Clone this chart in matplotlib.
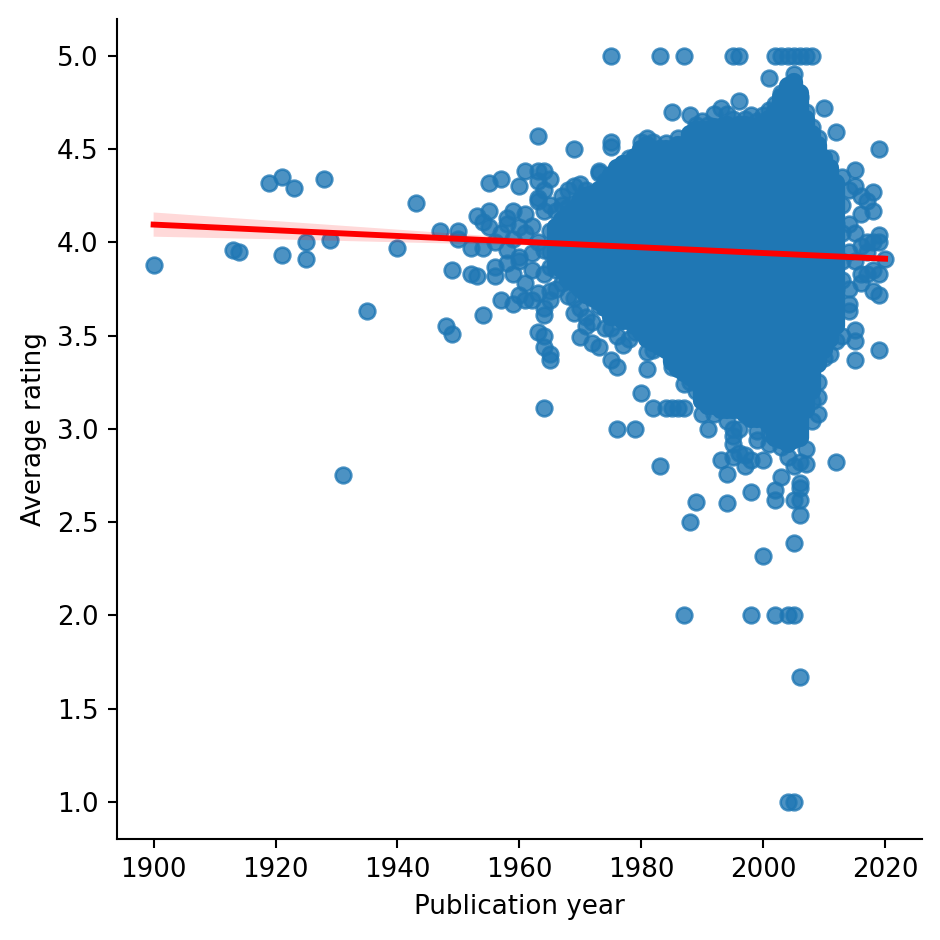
import numpy as np
import matplotlib
matplotlib.use("Agg")
import matplotlib.pyplot as plt

# single points: (publication year, average rating)
early_pts = [(1900, 3.88), (1913, 3.96), (1914, 3.95), (1919, 4.32), (1921, 4.35),
             (1921, 3.93), (1923, 4.29), (1925, 4.00), (1925, 3.91), (1928, 4.34),
             (1929, 4.01), (1931, 2.75), (1935, 3.63), (1940, 3.97), (1943, 4.21),
             (1947, 4.06), (1948, 3.55), (1949, 3.51), (1949, 3.85), (1950, 4.06),
             (1950, 4.02), (1952, 3.97), (1952, 3.83), (1953, 3.82), (1953, 4.14),
             (1954, 4.11), (1954, 3.97), (1954, 3.61), (1955, 4.17), (1955, 4.32),
             (1955, 4.08), (1956, 3.82), (1956, 3.87), (1956, 4.00), (1957, 4.34),
             (1957, 3.69), (1957, 4.05)]

left_pts = [(1958, 4.10), (1958, 4.13), (1958, 3.96), (1958, 3.89), (1959, 3.67),
            (1959, 4.17), (1959, 3.83), (1959, 4.02), (1960, 4.30), (1960, 4.08),
            (1960, 3.92), (1960, 3.72), (1960, 3.90), (1961, 4.38), (1961, 3.78),
            (1961, 3.69), (1961, 4.05), (1961, 4.15), (1962, 4.09), (1962, 3.94),
            (1962, 3.69), (1962, 3.85), (1963, 4.57), (1963, 4.38), (1963, 4.33),
            (1963, 4.24), (1963, 4.22), (1963, 3.73), (1963, 3.52), (1963, 4.00),
            (1964, 4.17), (1964, 4.28), (1964, 4.38), (1964, 3.96), (1964, 3.50),
            (1964, 3.44), (1964, 3.61), (1964, 3.65), (1964, 3.11), (1964, 3.83),
            (1965, 4.34), (1965, 4.20), (1965, 4.06), (1965, 3.87), (1965, 3.74),
            (1965, 3.69), (1965, 3.40), (1965, 3.37), (1965, 3.95), (1966, 4.17),
            (1966, 3.85), (1966, 3.75), (1967, 4.20), (1967, 3.78), (1967, 4.25),
            (1968, 4.19), (1968, 3.71), (1968, 4.28), (1969, 4.30), (1969, 4.50),
            (1969, 3.70), (1969, 3.62), (1970, 4.31), (1970, 3.65), (1970, 3.49),
            (1971, 4.28), (1971, 3.60), (1971, 3.55), (1972, 4.22), (1972, 3.57),
            (1972, 3.46), (1973, 4.38), (1973, 4.37), (1973, 3.66), (1973, 3.44),
            (1974, 3.54), (1974, 4.33), (1975, 4.54), (1975, 4.51), (1975, 3.37),
            (1975, 3.54), (1976, 3.50), (1976, 3.33), (1976, 3.00), (1977, 3.45),
            (1978, 3.48), (1979, 3.00)]

top_pts = [(1975, 5.0), (1983, 5.0), (1987, 5.0), (1995, 5.0), (1996, 5.0),
           (2002, 5.0), (2003, 5.0), (2004, 5.0), (2005, 5.0), (2006, 5.0),
           (2007, 5.0), (2008, 5.0), (2001, 4.88), (1985, 4.70), (1996, 4.76),
           (1993, 4.72), (1992, 4.69), (1988, 4.68), (1998, 4.68), (2001, 4.71),
           (2010, 4.72), (2012, 4.59), (1980, 4.54), (1982, 4.54), (1977, 4.42),
           (1976, 4.40), (2005, 4.90), (2004, 4.83), (2006, 4.78), (1990, 4.65),
           (1994, 4.69), (1997, 4.66), (2000, 4.68), (2003, 4.80), (2007, 4.70),
           (2008, 4.62), (2009, 4.56), (2011, 4.45), (2010, 4.38),
           (1978, 4.45), (1981, 4.56), (1984, 4.53), (1986, 4.56), (1989, 4.63),
           (1991, 4.63), (1995, 4.66), (1999, 4.65), (2002, 4.74)]

low_pts = [(1980, 3.19), (1981, 3.41), (1981, 3.32), (1982, 3.11), (1983, 2.80),
           (1984, 3.11), (1985, 3.11), (1986, 3.11), (1987, 3.11), (1987, 3.24),
           (1988, 2.50), (1989, 2.61), (1989, 3.20), (1990, 3.08), (1991, 3.00),
           (1993, 2.83), (1994, 2.76), (1994, 2.60), (1994, 3.04), (1995, 3.00),
           (1995, 2.96), (1995, 2.92), (1995, 2.85), (1996, 2.87), (1996, 3.00),
           (1997, 2.86), (1997, 2.80), (1998, 2.66), (1998, 2.83), (1999, 2.94),
           (1999, 2.99), (2000, 2.83), (2000, 2.32), (2001, 2.92), (2002, 2.67),
           (2002, 2.62), (2003, 2.74), (2004, 2.85), (2005, 2.80), (2005, 2.62),
           (2005, 2.39), (2006, 2.82), (2006, 2.71), (2006, 2.68), (2006, 2.62),
           (2006, 2.54), (2007, 2.89), (2007, 2.81), (2008, 3.04), (2009, 3.08),
           (2009, 3.25), (2009, 3.17), (2011, 3.40), (2012, 3.47), (2012, 2.82),
           (1987, 2.0), (1998, 2.0), (2002, 2.0), (2004, 2.0), (2005, 2.0),
           (2006, 1.67), (2004, 1.0), (2005, 1.0),
           (1979, 3.52), (1982, 3.42), (1985, 3.33), (1988, 3.25), (1992, 3.08),
           (2001, 2.98), (2003, 2.90), (2008, 3.15), (2010, 3.38)]

right_pts = [(2013, 4.20), (2013, 4.35), (2013, 3.50), (2013, 3.80), (2013, 3.90),
             (2013, 4.05), (2014, 4.28), (2014, 4.10), (2014, 3.67), (2014, 3.63),
             (2014, 3.95), (2014, 3.75), (2015, 4.39), (2015, 4.30), (2015, 3.53),
             (2015, 3.47), (2015, 3.37), (2015, 4.05), (2015, 3.90), (2016, 4.25),
             (2016, 4.15), (2016, 3.98), (2016, 3.83), (2016, 3.78), (2017, 4.22),
             (2017, 4.00), (2017, 3.95), (2017, 3.83), (2018, 4.27), (2018, 4.17),
             (2018, 3.74), (2018, 4.00), (2018, 3.85), (2019, 4.50), (2019, 4.04),
             (2019, 4.00), (2019, 3.83), (2019, 3.72), (2019, 3.42), (2020, 3.91),
             (2012, 4.10), (2012, 3.75), (2011, 3.85), (2010, 3.90)]

# dense core of the cloud: per year, lowest and highest rating where it is solid
core_year = list(range(1966, 2013))
core_low = [3.88, 3.85, 3.80, 3.78, 3.75, 3.72, 3.70, 3.68, 3.65, 3.60,
            3.60, 3.58, 3.58, 3.55, 3.52, 3.48, 3.46, 3.44, 3.42, 3.36,
            3.32, 3.30, 3.28, 3.25, 3.15, 3.12, 3.12, 3.10, 3.10, 3.10,
            3.10, 3.08, 3.05, 3.05, 3.05, 3.02, 2.95, 2.94, 2.92, 2.94,
            2.95, 3.10, 3.20, 3.35, 3.42, 3.48, 3.55]
core_high = [4.08, 4.12, 4.15, 4.18, 4.22, 4.25, 4.26, 4.28, 4.30, 4.36,
             4.40, 4.42, 4.42, 4.46, 4.50, 4.52, 4.50, 4.50, 4.50, 4.50,
             4.52, 4.52, 4.58, 4.60, 4.60, 4.60, 4.62, 4.62, 4.63, 4.62,
             4.63, 4.63, 4.62, 4.62, 4.63, 4.66, 4.70, 4.78, 4.84, 4.86,
             4.80, 4.66, 4.58, 4.52, 4.45, 4.40, 4.32]

# regression line and its confidence band
fit_year = [1900, 2020]
fit_rating = [4.095, 3.912]
ci_year = [1900, 1920, 1940, 1960, 1980, 2000, 2020]
ci_low = [4.030, 4.016, 4.000, 3.985, 3.963, 3.932, 3.895]
ci_high = [4.160, 4.114, 4.068, 4.022, 3.983, 3.952, 3.929]

points = early_pts + left_pts + top_pts + low_pts + right_pts
pub_year = [p[0] for p in points]
avg_rating = [p[1] for p in points]

blue = "#1f77b4"

fig = plt.figure(figsize=(5, 5), dpi=188)
ax = fig.add_axes([0.1245, 0.1074, 0.856, 0.8729])

ax.vlines(core_year, core_low, core_high, colors=blue, linewidth=7,
          capstyle="round", zorder=1)
ax.scatter(pub_year, avg_rating, s=36, color=blue, alpha=0.8,
           linewidths=1.0, zorder=2)

ax.fill_between(ci_year, ci_low, ci_high, facecolor="red", alpha=0.15,
                linewidth=0, zorder=3)
ax.plot(fit_year, fit_rating, color="red", linewidth=2.25, zorder=4)

ax.set_xlim(1894, 2026)
ax.set_ylim(0.8, 5.2)
ax.set_xticks([1900, 1920, 1940, 1960, 1980, 2000, 2020])
ax.set_yticks(np.arange(1.0, 5.01, 0.5))
ax.spines["top"].set_visible(False)
ax.spines["right"].set_visible(False)
ax.set_xlabel("Publication year")
ax.set_ylabel("Average rating")

fig.savefig("out.png", dpi=188)
